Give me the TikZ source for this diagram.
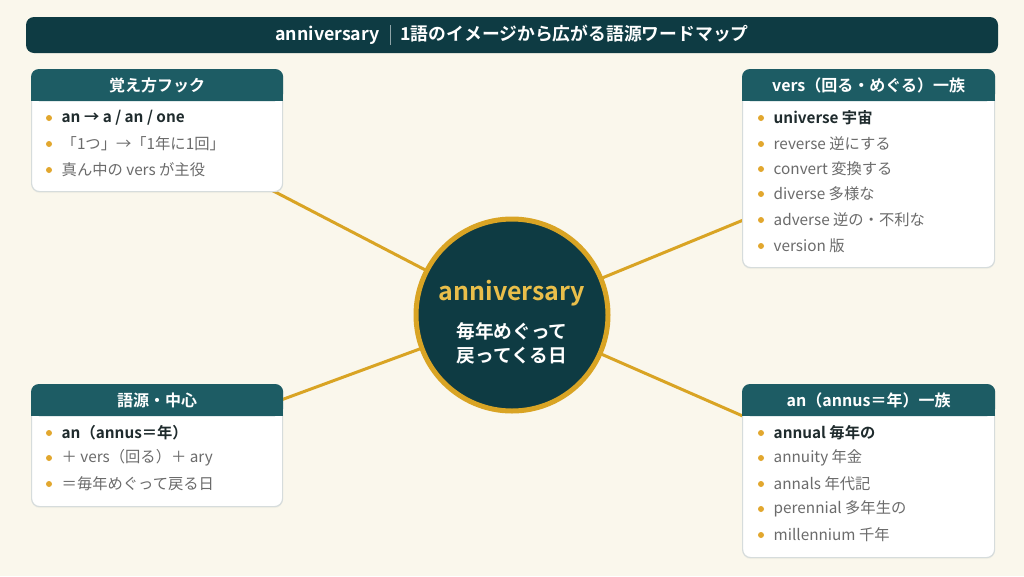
\documentclass[tikz,border=0pt]{standalone}
\usepackage{fontspec}
\setmainfont{Noto Sans CJK JP}[BoldFont={Noto Sans CJK JP Bold}]
\usetikzlibrary{calc,shadows}
\pgfdeclarelayer{bglayer}
\pgfdeclarelayer{linelayer}
\pgfsetlayers{bglayer,linelayer,main}
\definecolor{bgc}{HTML}{FAF7EC}
\definecolor{darkteal}{HTML}{0E3B43}
\definecolor{hdrc}{HTML}{1D5C64}
\definecolor{gold}{HTML}{D9A424}
\definecolor{bulc}{HTML}{E2A72E}
\definecolor{boldtxt}{HTML}{1F2B2D}
\definecolor{graytxt}{HTML}{6B6B6B}
\definecolor{bordc}{HTML}{D6DCDC}
\definecolor{centertxt}{HTML}{E9BE4A}
\definecolor{sepc}{HTML}{8FA5A8}
\tikzset{
  bodybox/.style={draw=bordc, line width=1.2pt, fill=white, rounded corners=8pt,
    drop shadow={opacity=0.06, shadow xshift=0pt, shadow yshift=-1.5pt}},
  hdrtext/.style={text=white, font=\fontsize{16}{19}\selectfont\bfseries, inner sep=0pt},
  itembold/.style={text=boldtxt, font=\fontsize{15.3}{18}\selectfont\bfseries, inner sep=0pt},
  itemgray/.style={text=graytxt, font=\fontsize{15.3}{18}\selectfont, inner sep=0pt},
  conn/.style={draw=gold, line width=3pt},
}
\newcommand\wbox[6]{%
  \node[bodybox, minimum width=#4pt, minimum height=#5pt, anchor=north west] (#1) at (#2,#3) {};
  \fill[hdrc, rounded corners=8pt] (#1.north west) rectangle ($(#1.north east)+(0,32)$);
  \fill[hdrc] ($(#1.north west)+(0,16)$) rectangle ($(#1.north east)+(0,32)$);
  \node[hdrtext] (#1-h) at ($(#1.north)+(0,16.5)$) {#6};
}
\newcommand\bitem[5]{%
  \fill[bulc] (#2,#3) circle (3pt);
  \node[#4, anchor=west] (#1) at (#2+12.5,#3) {#5};
}
\begin{document}
\begin{tikzpicture}[x=1pt,y=-1pt]
\begin{pgfonlayer}{bglayer}
  \fill[bgc] (0,0) rectangle (1024,576);
\end{pgfonlayer}
\useasboundingbox (0,0) rectangle (1024,576);
% title
\node[fill=darkteal, rounded corners=8pt, minimum width=972pt, minimum height=36pt,
  text=white, font=\fontsize{17.8}{20}\selectfont\bfseries] (title) at (512,35)
  {anniversary\hspace{10pt}{\color{sepc}\rule[-0.25em]{0.7pt}{1.15em}}\hspace{10pt}1語のイメージから広がる語源ワードマップ};
% center
\node[circle, fill=darkteal, draw=gold, line width=5pt, minimum size=192pt, inner sep=0pt] (circ) at (512,315) {};
\node[text=centertxt, font=\fontsize{25}{28}\selectfont\bfseries, inner sep=0pt] (ctitle) at (512,293) {anniversary};
\node[text=white, font=\fontsize{18.7}{24}\selectfont\bfseries, align=center, inner sep=0pt] (csub) at (512,343) {毎年めぐって\\戻ってくる日};
% boxes
\wbox{tl}{31}{69}{251}{122}{覚え方フック}
\bitem{tl1}{49}{118}{itembold}{an → a / an / one}
\bitem{tl2}{49}{144}{itemgray}{「1つ」→「1年に1回」}
\bitem{tl3}{49}{170}{itemgray}{真ん中の vers が主役}
\wbox{tr}{742}{69}{252}{198}{vers（回る・めぐる）一族}
\bitem{tr1}{761}{118}{itembold}{universe 宇宙}
\bitem{tr2}{761}{144}{itemgray}{reverse 逆にする}
\bitem{tr3}{761}{169}{itemgray}{convert 変換する}
\bitem{tr4}{761}{194}{itemgray}{diverse 多様な}
\bitem{tr5}{761}{220}{itemgray}{adverse 逆の・不利な}
\bitem{tr6}{761}{246}{itemgray}{version 版}
\wbox{bl}{31}{384}{251}{122}{語源・中心}
\bitem{bl1}{49}{433}{itembold}{an（annus＝年）}
\bitem{bl2}{49}{458}{itemgray}{＋ vers（回る）＋ ary}
\bitem{bl3}{49}{484}{itemgray}{＝毎年めぐって戻る日}
\wbox{br}{742}{384}{252}{173}{an（annus＝年）一族}
\bitem{br1}{761}{433}{itembold}{annual 毎年の}
\bitem{br2}{761}{458}{itemgray}{annuity 年金}
\bitem{br3}{761}{484}{itemgray}{annals 年代記}
\bitem{br4}{761}{509}{itemgray}{perennial 多年生の}
\bitem{br5}{761}{535}{itemgray}{millennium 千年}
% connectors
\begin{pgfonlayer}{linelayer}
  \draw[conn] (circ.center) -- (tl.center);
  \draw[conn] (circ.center) -- (tr.center);
  \draw[conn] (circ.center) -- (bl.center);
  \draw[conn] (circ.center) -- (br.center);
\end{pgfonlayer}
\end{tikzpicture}
\end{document}
